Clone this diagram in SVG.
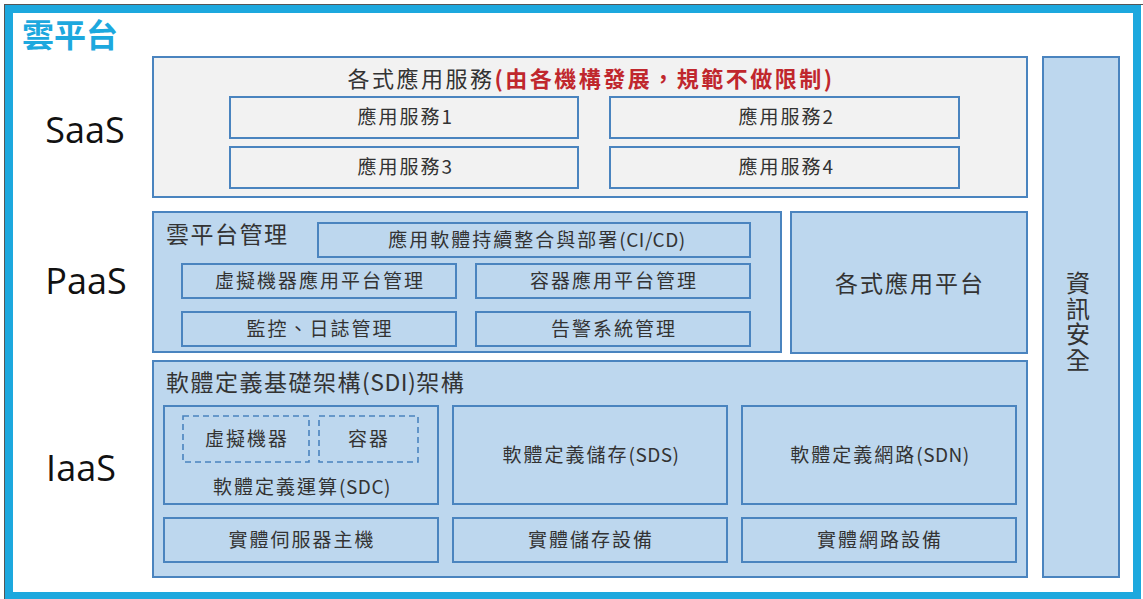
<svg xmlns="http://www.w3.org/2000/svg" width="1143" height="599" viewBox="0 0 1143 599">
<style>
text{font-family:"Noto Sans CJK TC","Noto Sans",sans-serif;fill:#333;}
.box{fill:#bdd7ee;stroke:#4a84bf;stroke-width:2;}
.sbox{fill:#f2f2f2;stroke:#4a84bf;stroke-width:2;}
.dash{fill:none;stroke:#4a84bf;stroke-width:1.6;stroke-dasharray:6 4;}
.t18{font-size:19px;letter-spacing:2px;text-anchor:middle;}
.t21{font-size:23px;letter-spacing:1.5px;}
.lat{letter-spacing:0.5px;}
.layer{font-family:"Open Sans","Noto Sans",sans-serif;font-size:36px;fill:#111;text-anchor:middle;}
</style>
<rect x="0" y="0" width="1143" height="599" fill="#fff"/>
<rect x="9" y="9" width="1128" height="587" fill="none" stroke="#1da8de" stroke-width="8"/>
<rect x="4.5" y="4.5" width="1140" height="600" fill="none" stroke="#555" stroke-width="1"/>
<text x="22" y="47" style="font-size:32px;font-weight:bold;fill:#1da8de;">雲平台</text>

<g id="labels">
<text class="layer" x="85" y="143">SaaS</text>
<text class="layer" x="86" y="294">PaaS</text>
<text class="layer" x="81" y="481">IaaS</text>
</g>

<g id="saas">
<rect class="sbox" x="153" y="57" width="874" height="140"/>
<text x="591" y="87" style="font-size:22px;letter-spacing:2.5px;text-anchor:middle;">各式應用服務<tspan style="fill:#c0272d;font-weight:bold;">(由各機構發展，規範不做限制)</tspan></text>
</g>
<g id="app1"><rect class="sbox" x="230" y="97" width="348" height="41"/><text class="t18" x="405" y="124">應用服務<tspan class="lat">1</tspan></text></g>
<g id="app2"><rect class="sbox" x="610" y="97" width="349" height="41"/><text class="t18" x="786" y="124">應用服務<tspan class="lat">2</tspan></text></g>
<g id="app3"><rect class="sbox" x="230" y="147" width="348" height="41"/><text class="t18" x="405" y="174">應用服務<tspan class="lat">3</tspan></text></g>
<g id="app4"><rect class="sbox" x="610" y="147" width="349" height="41"/><text class="t18" x="786" y="174">應用服務<tspan class="lat">4</tspan></text></g>

<g id="paas-mgmt">
<rect class="box" x="153" y="212" width="628" height="140"/>
<text class="t21" x="166" y="243">雲平台管理</text>
</g>
<g id="cicd"><rect class="box" x="318" y="223" width="432" height="34"/><text class="t18" x="537" y="247">應用軟體持續整合與部署<tspan class="lat">(CI/CD)</tspan></text></g>
<g id="vm-mgmt"><rect class="box" x="182" y="264" width="274" height="34"/><text class="t18" x="320" y="288">虛擬機器應用平台管理</text></g>
<g id="ct-mgmt"><rect class="box" x="476" y="264" width="274" height="34"/><text class="t18" x="614" y="288">容器應用平台管理</text></g>
<g id="monitor"><rect class="box" x="182" y="312" width="274" height="34"/><text class="t18" x="320" y="336">監控、日誌管理</text></g>
<g id="alert"><rect class="box" x="476" y="312" width="274" height="34"/><text class="t18" x="614" y="336">告警系統管理</text></g>
<g id="platform"><rect class="box" x="791" y="212" width="236" height="141"/><text x="910" y="292" style="font-size:23px;letter-spacing:2px;text-anchor:middle;">各式應用平台</text></g>

<g id="security">
<rect class="box" x="1043" y="57" width="76" height="520"/>
<text x="1078" y="322" style="font-size:24px;letter-spacing:1.5px;text-anchor:middle;writing-mode:vertical-rl;">資訊安全</text>
</g>

<g id="sdi">
<rect class="box" x="153" y="361" width="874" height="216"/>
<text class="t21" x="166" y="391">軟體定義基礎架構<tspan class="lat">(SDI)</tspan>架構</text>
</g>
<g id="sdc">
<rect class="box" x="164" y="406" width="274" height="98"/>
<text class="t18" x="302" y="494">軟體定義運算<tspan class="lat">(SDC)</tspan></text>
</g>
<g id="vm"><rect class="dash" x="183" y="416" width="126" height="46"/><text class="t18" x="247" y="446">虛擬機器</text></g>
<g id="container"><rect class="dash" x="319" y="416" width="99" height="46"/><text class="t18" x="369" y="446">容器</text></g>
<g id="sds"><rect class="box" x="453" y="406" width="274" height="98"/><text class="t18" x="591" y="462">軟體定義儲存<tspan class="lat">(SDS)</tspan></text></g>
<g id="sdn"><rect class="box" x="742" y="406" width="274" height="98"/><text class="t18" x="880" y="462">軟體定義網路<tspan class="lat">(SDN)</tspan></text></g>
<g id="server"><rect class="box" x="164" y="518" width="274" height="44"/><text class="t18" x="302" y="547">實體伺服器主機</text></g>
<g id="storage"><rect class="box" x="453" y="518" width="274" height="44"/><text class="t18" x="591" y="547">實體儲存設備</text></g>
<g id="network"><rect class="box" x="742" y="518" width="274" height="44"/><text class="t18" x="880" y="547">實體網路設備</text></g>
<g id="connectors"></g>
</svg>
